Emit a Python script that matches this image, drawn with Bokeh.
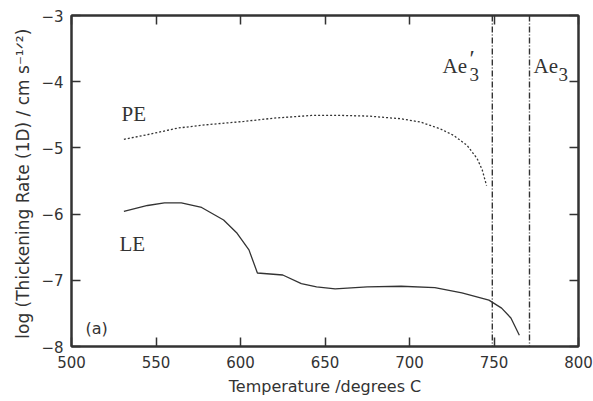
from bokeh.plotting import figure
from bokeh.models import LinearAxis, FixedTicker, Span, Label, Range1d
from bokeh.embed import file_html
from bokeh.resources import INLINE

# Data
pe_temp = [531, 545, 563, 580, 602, 620, 642, 660, 676, 695, 706.5, 718, 726, 734, 740, 743, 745.6]
pe_rate = [-4.87, -4.80, -4.70, -4.65, -4.60, -4.55, -4.51, -4.51, -4.52, -4.56, -4.61, -4.71,
           -4.81, -4.96, -5.16, -5.33, -5.57]

le_temp = [531, 545, 555, 565, 577, 590, 598, 605, 610, 625, 636, 645, 656, 675, 695, 715,
           731, 747, 754.5, 760, 765]
le_rate = [-5.96, -5.87, -5.83, -5.83, -5.90, -6.09, -6.29, -6.54, -6.89, -6.92, -7.05, -7.10,
           -7.13, -7.10, -7.09, -7.11, -7.19, -7.30, -7.42, -7.57, -7.83]

ae_temps = [749, 771]

x_ticks = [500, 550, 600, 650, 700, 750, 800]
y_ticks = [-8, -7, -6, -5, -4, -3]
y_tick_labels = {t: "\u2212" + str(abs(t)) for t in y_ticks}

INK = "#333333"

p = figure(width=593, height=401, output_backend="svg", toolbar_location=None,
           x_range=Range1d(500, 800), y_range=Range1d(-8, -3),
           min_border_left=71, min_border_right=15, min_border_top=15, min_border_bottom=55,
           background_fill_color="white", border_fill_color="white")
p.grid.visible = False
p.outline_line_color = INK
p.outline_line_width = 2

def style(ax, labels=True):
    ax.major_tick_in = 9
    ax.major_tick_out = 0
    ax.minor_tick_in = 0
    ax.minor_tick_out = 0
    ax.axis_line_color = INK
    ax.axis_line_width = 2
    ax.major_tick_line_color = INK
    ax.major_tick_line_width = 1.5
    ax.major_label_text_font = "DejaVu Sans"
    ax.major_label_text_font_size = "15px"
    ax.major_label_text_color = INK if labels else None

xa = p.xaxis[0]
xa.ticker = FixedTicker(ticks=x_ticks)
style(xa)
xa.major_label_standoff = 9
xa.axis_label = "Temperature /degrees C"
xa.axis_label_text_font = "DejaVu Sans"
xa.axis_label_text_font_size = "16px"
xa.axis_label_text_font_style = "normal"
xa.axis_label_text_color = INK
xa.axis_label_standoff = 6

ya = p.yaxis[0]
ya.ticker = FixedTicker(ticks=y_ticks)
style(ya)
ya.major_label_overrides = y_tick_labels
ya.major_label_standoff = 8
ya.axis_label = "log  (Thickening Rate (1D) / cm s\u207b\u00b9\u141f\u00b2)"
ya.axis_label_text_font = "DejaVu Sans"
ya.axis_label_text_font_size = "17px"
ya.axis_label_text_font_style = "normal"
ya.axis_label_text_color = INK
ya.axis_label_standoff = 5

top = LinearAxis(ticker=FixedTicker(ticks=x_ticks))
style(top, labels=False)
p.add_layout(top, "above")
right = LinearAxis(ticker=FixedTicker(ticks=y_ticks))
style(right, labels=False)
p.add_layout(right, "right")

p.line(pe_temp, pe_rate, line_color=INK, line_width=1.3, line_dash="2 2")
p.line(le_temp, le_rate, line_color=INK, line_width=1.3)

for t in ae_temps:
    p.add_layout(Span(location=t, dimension="height", line_color=INK, line_width=1.4,
                      line_dash="6 2 1 2"))

def px2x(px):
    return 500 + (px - 71) * 300 / 507

def py2y(py):
    return -3 - (py - 15) * 5 / 331

def lab(text, px, py, size="20px", font="Liberation Serif"):
    p.add_layout(Label(x=px2x(px), y=py2y(py), text=text, text_font=font,
                       text_font_size=size, text_color=INK, text_baseline="alphabetic",
                       text_align="left"))

lab("PE", 121, 113, "21px")
lab("LE", 119, 243, "21px")
lab("(a)", 85, 328, "16px", "DejaVu Sans")
lab("Ae", 442, 65, "21px")
lab("3", 469, 74, "19px")
lab("\u2032", 469, 57, "24px")
lab("Ae", 533, 65, "21px")
lab("3", 558, 74, "19px")

open("out.html", "w").write(file_html(p, INLINE))
